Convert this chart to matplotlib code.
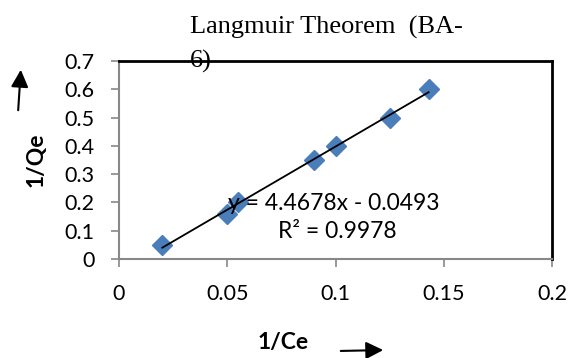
import matplotlib
matplotlib.use("Agg")
import matplotlib.pyplot as plt
import numpy as np

x_vals = [0.02, 0.05, 0.055, 0.09, 0.10, 0.125, 0.143]
y_vals = [0.05, 0.16, 0.20, 0.35, 0.40, 0.50, 0.60]
slope = 4.4678
intercept = -0.0493
x_ticks = [0, 0.05, 0.1, 0.15, 0.2]
x_ticklabels = ["0", "0.05", "0.1", "0.15", "0.2"]
y_ticks = [0, 0.1, 0.2, 0.3, 0.4, 0.5, 0.6, 0.7]
y_ticklabels = ["0", "0.1", "0.2", "0.3", "0.4", "0.5", "0.6", "0.7"]

W, H = 570, 358
fig = plt.figure(figsize=(W/100, H/100), dpi=100)
left, right, top, bottom = 119, 552, 61, 259
ax = fig.add_axes([left/W, 1-bottom/H, (right-left)/W, (bottom-top)/H])

sans = "Lato"
fs = 15.5
ax.set_xlim(0, 0.2)
ax.set_ylim(0, 0.7)
ax.set_xticks(x_ticks)
ax.set_xticklabels(x_ticklabels, fontfamily=sans, fontsize=fs)
ax.set_yticks(y_ticks)
ax.set_yticklabels(y_ticklabels, fontfamily=sans, fontsize=fs)
ax.tick_params(axis='x', direction='out', length=5.8, width=1.2, color='#888888', pad=12)
ax.tick_params(axis='y', direction='out', length=5.8, width=1.2, color='#888888', pad=12)
for s in ['left', 'bottom']:
    ax.spines[s].set_color('#888888')
    ax.spines[s].set_linewidth(1.5)
for s in ['top', 'right']:
    ax.spines[s].set_color('black')
    ax.spines[s].set_linewidth(2)

xf = np.array([min(x_vals), max(x_vals)])
ax.plot(x_vals, y_vals, linestyle='none', marker='D', markersize=10, color='#4a7ebb', zorder=3)
ax.plot(xf, slope*xf + intercept, color='black', linewidth=1.3, zorder=4)

fig.text(228/W, 1-203/H, "y = 4.4678x - 0.0493", fontfamily=sans, fontsize=16.5, va='center', ha='left')
fig.text(397/W, 1-231/H, "R² = 0.9978", fontfamily=sans, fontsize=16.5, va='center', ha='right')

fig.text(190/W, 1-27/H, "Langmuir Theorem  (BA-", fontfamily="Liberation Serif", fontsize=19, va='center', ha='left')
fig.text(190/W, 1-61/H, "6)", fontfamily="Liberation Serif", fontsize=19, va='center', ha='left', zorder=0)

fig.text(36/W, 1-160/H, "1/Qe", fontfamily=sans, fontsize=fs+1, fontweight='bold', rotation=90, va='center', ha='center')
fig.text(283/W, 1-343/H, "1/Ce", fontfamily=sans, fontsize=fs+1, fontweight='bold', va='center', ha='center')

fig.add_artist(matplotlib.patches.FancyArrowPatch((18/W, 1-113/H), (21/W, 1-67/H), transform=fig.transFigure,
               arrowstyle='-|>,head_length=7,head_width=3.5', color='black', linewidth=1.5, mutation_scale=1.5))
fig.add_artist(matplotlib.patches.FancyArrowPatch((338/W, 1-351/H), (386/W, 1-350/H), transform=fig.transFigure,
               arrowstyle='-|>,head_length=7,head_width=3.5', color='black', linewidth=1.5, mutation_scale=1.5))

fig.savefig("out.png", dpi=100)
